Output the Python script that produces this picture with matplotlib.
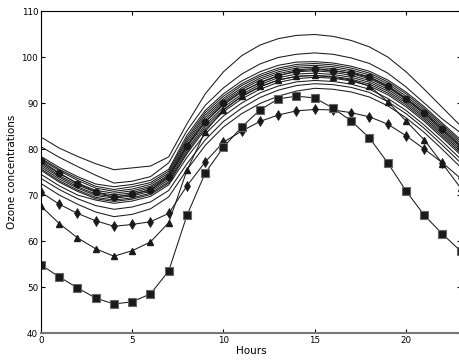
import matplotlib
matplotlib.use('Agg')
from matplotlib import pyplot as plt

hours = list(range(24))

# unmarked curves, top to bottom
top_line = [82.6, 80.2, 78.4, 76.8, 75.5, 75.9, 76.3, 78.3, 85.5, 92.0, 96.8, 100.3,
            102.6, 104.0, 104.7, 104.9, 104.5, 103.6, 102.2, 100.0, 96.8, 93.0, 89.0, 85.0]
second_line = [80.5, 78.2, 76.2, 74.3, 72.6, 73.0, 74.0, 77.0, 84.0, 89.5, 93.3, 96.3,
               98.5, 99.9, 100.6, 100.9, 100.6, 99.8, 98.6, 96.5, 93.5, 90.0, 86.5, 83.5]
bunch = [
    [78.4, 76.0, 74.0, 72.4, 71.8, 72.3, 73.2, 75.6, 83.0, 88.4, 92.0, 94.8, 96.8, 98.2, 98.9, 99.0, 98.7, 98.0, 96.9, 95.0, 92.4, 89.2, 85.6, 82.0],
    [78.0, 75.6, 73.6, 71.9, 71.2, 71.8, 72.7, 75.2, 82.4, 87.9, 91.5, 94.2, 96.2, 97.6, 98.4, 98.6, 98.3, 97.6, 96.5, 94.6, 92.0, 88.8, 85.2, 81.6],
    [77.8, 75.3, 73.2, 71.5, 70.8, 71.3, 72.3, 74.8, 81.9, 87.4, 91.0, 93.8, 95.8, 97.2, 98.0, 98.2, 97.9, 97.2, 96.1, 94.2, 91.5, 88.4, 84.8, 81.2],
    [77.2, 74.6, 72.6, 71.0, 70.4, 70.9, 71.9, 74.4, 81.4, 86.9, 90.6, 93.3, 95.4, 96.8, 97.6, 97.8, 97.5, 96.8, 95.7, 93.8, 91.1, 88.0, 84.4, 80.8],
    [76.9, 74.2, 72.2, 70.6, 70.0, 70.5, 71.6, 74.1, 80.9, 86.4, 90.2, 92.9, 95.0, 96.4, 97.2, 97.5, 97.1, 96.4, 95.3, 93.4, 90.8, 87.6, 84.0, 80.3],
    [76.5, 73.9, 71.8, 70.2, 69.6, 70.1, 71.1, 73.7, 80.4, 85.9, 89.6, 92.4, 94.5, 96.0, 96.8, 97.0, 96.7, 96.0, 94.9, 93.0, 90.4, 87.2, 83.6, 79.9],
    [76.1, 73.5, 71.5, 69.9, 69.3, 69.8, 70.8, 73.3, 79.9, 85.3, 89.1, 91.9, 94.0, 95.5, 96.3, 96.5, 96.2, 95.6, 94.5, 92.6, 90.0, 86.8, 83.2, 79.5],
    [75.7, 73.1, 71.1, 69.5, 68.9, 69.4, 70.4, 72.9, 79.4, 84.8, 88.6, 91.4, 93.5, 95.0, 95.8, 96.0, 95.8, 95.2, 94.1, 92.2, 89.6, 86.4, 82.8, 79.1],
    [75.4, 72.8, 70.8, 69.2, 68.6, 69.1, 70.1, 72.6, 79.0, 84.3, 88.1, 90.9, 93.0, 94.5, 95.3, 95.6, 95.4, 94.8, 93.7, 91.8, 89.2, 86.0, 82.4, 78.7],
    [74.5, 72.0, 70.0, 68.9, 68.2, 68.7, 69.7, 72.2, 78.2, 83.3, 87.2, 90.0, 92.2, 93.7, 94.6, 94.9, 94.7, 94.1, 93.0, 91.0, 88.4, 85.2, 81.6, 77.8],
    [73.6, 71.2, 69.2, 67.7, 66.9, 67.4, 68.5, 71.0, 76.8, 82.0, 86.0, 88.9, 91.2, 92.8, 93.8, 94.2, 94.0, 93.4, 92.3, 90.3, 87.7, 84.5, 80.8, 77.0],
    [72.5, 70.0, 68.0, 66.3, 65.3, 65.8, 67.0, 69.6, 75.5, 80.8, 84.8, 87.7, 89.9, 91.5, 92.6, 93.2, 93.0, 92.4, 91.3, 89.4, 86.8, 83.6, 79.9, 76.0],
]

# marked curves
circles = [77.5, 74.8, 72.5, 70.7, 69.5, 70.2, 71.2, 74.0, 80.7, 85.9, 89.9, 92.5,
           94.4, 95.9, 97.0, 97.3, 97.0, 96.5, 95.6, 93.6, 90.9, 87.9, 84.3, 80.5]
diamonds = [70.6, 68.0, 66.0, 64.4, 63.2, 63.6, 64.2, 66.0, 72.0, 77.2, 81.5, 83.9,
            86.0, 87.4, 88.3, 88.6, 88.5, 87.9, 87.0, 85.4, 82.9, 80.0, 77.0, 73.6]
triangles = [67.6, 63.8, 60.7, 58.3, 56.7, 57.9, 59.8, 64.0, 75.4, 83.8, 88.5, 91.5,
             93.6, 95.0, 95.8, 96.0, 95.6, 95.0, 93.7, 90.3, 86.1, 82.0, 76.8, 71.5]
squares = [54.8, 52.2, 49.8, 47.6, 46.3, 46.8, 48.5, 53.5, 65.6, 74.8, 80.4, 84.8,
           88.5, 90.9, 91.5, 91.1, 88.9, 86.1, 82.4, 77.0, 70.9, 65.6, 61.5, 57.8]

lc = '#1a1a1a'
lw = 0.75

fig = plt.figure(figsize=(4.59, 3.63), dpi=100)
ax = fig.add_axes([0.0893, 0.0826, 0.9145, 0.887])

for ys in [top_line, second_line] + bunch:
    ax.plot(hours, ys, color=lc, lw=lw)

ax.plot(hours, circles, color=lc, lw=lw, marker='o', ms=4.5)
ax.plot(hours, diamonds, color=lc, lw=lw, marker='d', ms=5, mew=0.5)
ax.plot(hours, triangles, color=lc, lw=lw, marker='^', ms=5)
ax.plot(hours, squares, color=lc, lw=lw, marker='s', ms=5.5, mec='#666666', mew=0.8)

ax.set_xlim(0, 23)
ax.set_ylim(40, 110)
ax.set_xticks([0, 5, 10, 15, 20])
ax.set_yticks(range(40, 111, 10))
ax.tick_params(direction='in', top=True, right=True, labelsize=6.3, length=3, pad=2)
ax.spines['bottom'].set_color('#777777')
ax.spines['bottom'].set_linewidth(1.5)
ax.set_xlabel('Hours', fontsize=7.5, labelpad=1)
ax.set_ylabel('Ozone concentrations', fontsize=7.5, labelpad=3)

plt.savefig('out.png', dpi=100)
